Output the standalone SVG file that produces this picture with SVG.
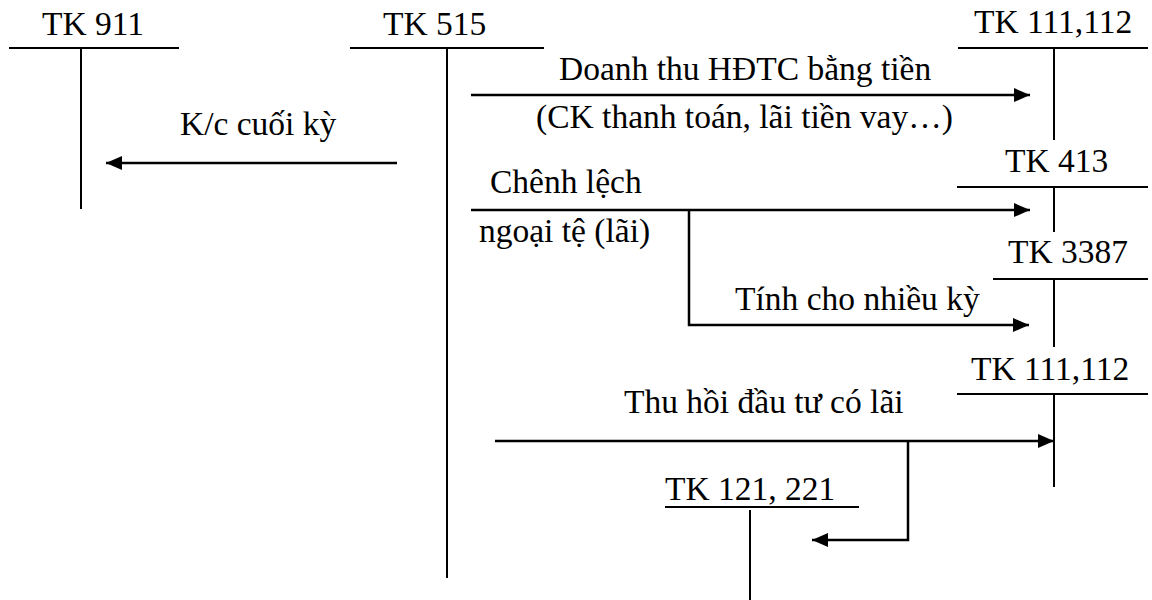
<svg xmlns="http://www.w3.org/2000/svg" width="1152" height="600" viewBox="0 0 1152 600">
  <style>
    .bg { fill: #ffffff; }
    .acct { stroke: #000; stroke-width: 2; fill: none; }
    .flow { stroke: #000; stroke-width: 2.5; fill: none; }
    .arrow { marker-end: url(#head); }
    .t { font-family: 'Liberation Serif', 'Times New Roman', serif; font-size: 33.5px; fill: #000; }
  </style>
  <defs>
    <marker id="head" markerUnits="userSpaceOnUse" markerWidth="17" markerHeight="15" viewBox="0 0 17 15" refX="16" refY="7.5" orient="auto">
      <path d="M0,0.5 L16,7.5 L0,14.5 Z" fill="#000"/>
    </marker>
  </defs>

  <rect class="bg" x="0" y="0" width="1152" height="600"/>

  <!-- T-accounts -->
  <g id="tk911">
    <text class="t" x="42" y="35">TK 911</text>
    <line class="acct" x1="9" y1="48" x2="179" y2="48"/>
    <line class="acct" x1="81" y1="48" x2="81" y2="209"/>
  </g>

  <g id="tk515">
    <text class="t" x="383" y="35">TK 515</text>
    <line class="acct" x1="350" y1="48" x2="544" y2="48"/>
    <line class="acct" x1="447" y1="48" x2="447" y2="578"/>
  </g>

  <g id="tk111-112-top">
    <text class="t" x="974" y="33">TK 111,112</text>
    <line class="acct" x1="958" y1="48" x2="1148" y2="48"/>
    <line class="acct" x1="1054" y1="48" x2="1054" y2="140"/>
  </g>

  <g id="tk413">
    <text class="t" x="1005" y="172">TK 413</text>
    <line class="acct" x1="957" y1="187" x2="1148" y2="187"/>
    <line class="acct" x1="1054" y1="187" x2="1054" y2="232"/>
  </g>

  <g id="tk3387">
    <text class="t" x="1008" y="263">TK 3387</text>
    <line class="acct" x1="993" y1="279" x2="1148" y2="279"/>
    <line class="acct" x1="1054" y1="279" x2="1054" y2="347"/>
  </g>

  <g id="tk111-112-bottom">
    <text class="t" x="971" y="380">TK 111,112</text>
    <line class="acct" x1="957" y1="394" x2="1148" y2="394"/>
    <line class="acct" x1="1054" y1="394" x2="1054" y2="487"/>
  </g>

  <g id="tk121-221">
    <text class="t" x="665" y="500">TK 121, 221</text>
    <line class="acct" x1="665" y1="507" x2="859" y2="507"/>
    <line class="acct" x1="750" y1="510" x2="750" y2="600"/>
  </g>

  <!-- Entries between accounts -->
  <g id="connectors">
    <line class="flow arrow" x1="397" y1="163" x2="106" y2="163"/>
    <line class="flow arrow" x1="471" y1="95" x2="1030" y2="95"/>
    <line class="flow arrow" x1="471" y1="210" x2="1030" y2="210"/>
    <polyline class="flow arrow" points="689,210 689,325 1029,325"/>
    <line class="flow arrow" x1="495" y1="441" x2="1054" y2="441"/>
    <polyline class="flow arrow" points="908,441 908,540 812,540"/>
  </g>

  <!-- Entry labels -->
  <g id="labels">
    <text class="t" x="180" y="135">K/c cuối kỳ</text>
    <text class="t" x="559" y="80">Doanh thu HĐTC bằng tiền</text>
    <text class="t" x="536" y="128">(CK thanh toán, lãi tiền vay…)</text>
    <text class="t" x="490" y="193">Chênh lệch</text>
    <text class="t" x="479" y="242">ngoại tệ (lãi)</text>
    <text class="t" x="735" y="310">Tính cho nhiều kỳ</text>
    <text class="t" x="624" y="413">Thu hồi đầu tư có lãi</text>
  </g>
</svg>
